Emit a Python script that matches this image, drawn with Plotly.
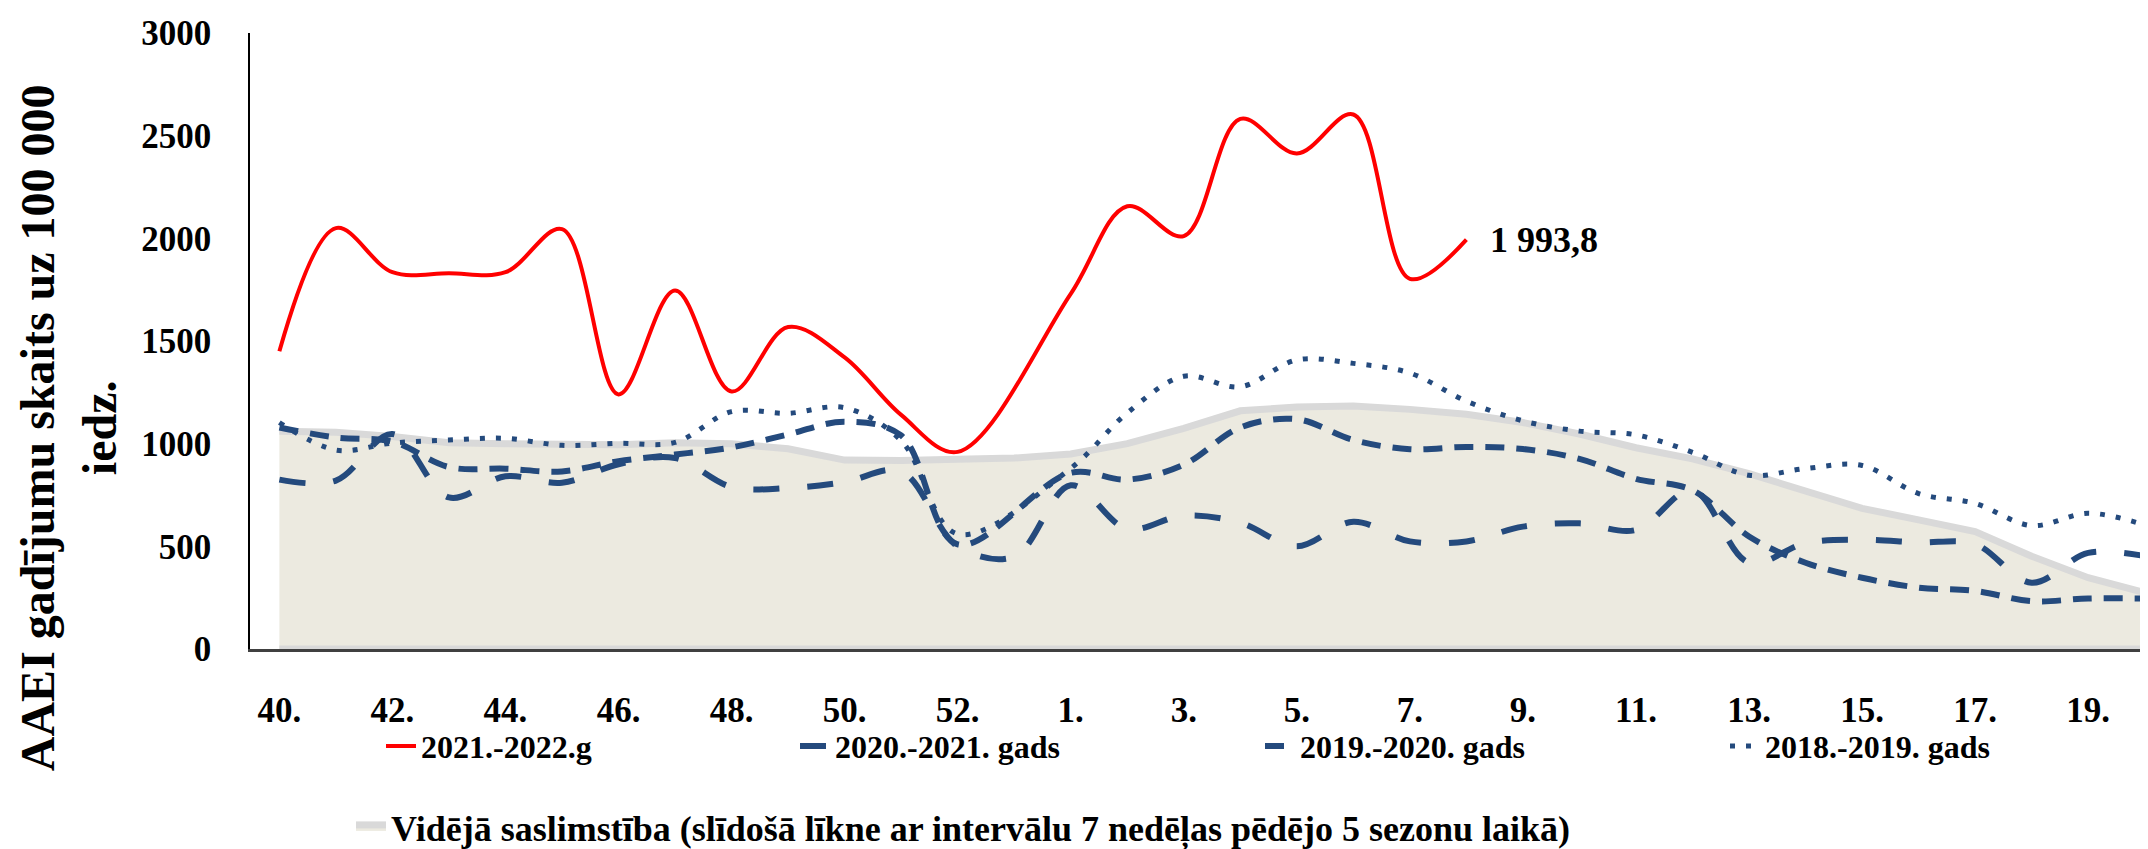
import plotly.graph_objects as go

# week categories of the season (2020 had a week 53)
weeks = ["40.", "41.", "42.", "43.", "44.", "45.", "46.", "47.", "48.", "49.",
         "50.", "51.", "52.", "53.", "1.", "2.", "3.", "4.", "5.", "6.", "7.",
         "8.", "9.", "10.", "11.", "12.", "13.", "14.", "15.", "16.", "17.",
         "18.", "19.", "20."]

# AAEI cases per 100 000 population
s_2021_2022 = [1450, 2050, 1835, 1830, 1835, 2045, 1240, 1746, 1254, 1568, 1420,
               1140, 960, None, 1730, 2156, 2011, 2582, 2413, 2603, 1803, 1993.8]
s_2020_2021 = [825, 820, 1047, 738, 841, 810, 900, 930, 789, 784, 813, 865, 500,
               450, 797, 585, 650, 615, 500, 620, 524, 524, 596, 612, 580, 773,
               420, 516, 532, 519, 511, 323, 468, 452]
s_2019_2020 = [1079, 1030, 1010, 886, 878, 865, 915, 947, 982, 1045, 1107, 1040,
               510, None, 858, 825, 898, 1079, 1119, 1018, 973, 984, 974, 926,
               829, 773, 548, 420, 347, 299, 283, 233, 246, 246]
s_2018_2019 = [1103, 969, 1003, 1018, 1026, 992, 1002, 1006, 1156, 1148, 1175,
               1015, 560, None, 880, 1150, 1328, 1277, 1408, 1391, 1344, 1207,
               1111, 1061, 1043, 958, 846, 879, 894, 757, 709, 601, 661, 604]
avg_5_seasons = [1060, 1055, 1035, 1005, 1000, 995, 995, 1005, 1000, 975, 920,
                 918, 925, 930, 950, 1000, 1075, 1160, 1178, 1183, 1167, 1143,
                 1103, 1047, 980, 926, 854, 765, 685, 629, 572, 452, 347, 275]

tick_weeks = weeks[::2]
last_label = "1 993,8"

SERIF = "Liberation Serif, Times New Roman, serif"
BLUE = "#244A7D"


def px_to_paper(px):
    # horizontal pixel -> paper fraction (plot spans 242..2148)
    return (px - 242) / 1906


fig = go.Figure()

# average incidence: closed polygon down to zero so the edges are outlined
fig.add_trace(go.Scatter(
    x=weeks + [weeks[-1], weeks[0]],
    y=avg_5_seasons + [0, 0],
    mode="lines", fill="toself", fillcolor="#ECEAE0",
    line=dict(color="#D9D9D9", width=7),
    name="Vidējā saslimstība (slīdošā līkne ar intervālu 7 nedēļas pēdējo 5 sezonu laikā)",
    legend="legend5", hoverinfo="skip"
))

fig.add_trace(go.Scatter(
    x=weeks, y=s_2018_2019, mode="lines", connectgaps=True,
    line=dict(color=BLUE, width=5, dash="5px,11px", shape="spline", smoothing=1),
    name="2018.-2019. gads", legend="legend4"
))
fig.add_trace(go.Scatter(
    x=weeks, y=s_2019_2020, mode="lines", connectgaps=True,
    line=dict(color=BLUE, width=6, dash="19px,12px", shape="spline", smoothing=1),
    name="2019.-2020. gads", legend="legend3"
))
fig.add_trace(go.Scatter(
    x=weeks, y=s_2020_2021, mode="lines", connectgaps=True,
    line=dict(color=BLUE, width=6, dash="26px,28px", shape="spline", smoothing=1),
    name="2020.-2021. gads", legend="legend2"
))
fig.add_trace(go.Scatter(
    x=weeks[:len(s_2021_2022)], y=s_2021_2022, mode="lines", connectgaps=True,
    line=dict(color="#FF0000", width=4, shape="spline", smoothing=1),
    name="2021.-2022.g", legend="legend"
))

# value label at the end of the current season (category index, not the
# "8." string, which plotly would read as the number 8)
fig.add_annotation(
    x=len(s_2021_2022) - 1, y=s_2021_2022[-1], text=last_label,
    showarrow=False, xanchor="left", yanchor="middle", xshift=22,
    font=dict(family=SERIF, size=36, color="black", weight="bold")
)

# y axis title (two lines, rotated)
fig.add_annotation(
    xref="paper", yref="paper", x=-0.0955, y=0.36,
    text="AAEI gadījumu skaits uz 100 000<br>iedz.", textangle=-90,
    showarrow=False, xanchor="center", yanchor="middle",
    font=dict(family=SERIF, size=48, color="black", weight="bold")
)

leg_font = dict(family=SERIF, size=32, color="black", weight="bold")
leg_common = dict(orientation="h", xanchor="left", yanchor="middle",
                  bgcolor="rgba(0,0,0,0)", font=leg_font)

fig.update_layout(
    width=2148, height=849,
    paper_bgcolor="white", plot_bgcolor="white",
    margin=dict(l=242, r=0, t=25, b=202),
    showlegend=True,
    xaxis=dict(
        type="category", categoryorder="array", categoryarray=weeks,
        range=[-0.52, 33.2], tickmode="array", tickvals=tick_weeks,
        showgrid=False, zeroline=False, showline=True,
        linecolor="#404040", linewidth=3, ticks="",
        ticklabelstandoff=28,
        tickfont=dict(family=SERIF, size=35, color="black", weight="bold")
    ),
    yaxis=dict(
        range=[0, 3000], tickmode="linear", tick0=0, dtick=500,
        showgrid=False, zeroline=False, showline=True,
        linecolor="black", linewidth=1.5, ticks="",
        ticklabelstandoff=30,
        tickfont=dict(family=SERIF, size=35, color="black", weight="bold")
    ),
    legend=dict(x=px_to_paper(373), y=-0.1576, **leg_common),
    legend2=dict(x=px_to_paper(787), y=-0.1576, **leg_common),
    legend3=dict(x=px_to_paper(1252), y=-0.1576, **leg_common),
    legend4=dict(x=px_to_paper(1717), y=-0.1576, **leg_common),
    legend5=dict(x=px_to_paper(343), y=-0.29, orientation="h",
                 xanchor="left", yanchor="middle", bgcolor="rgba(0,0,0,0)",
                 font=dict(family=SERIF, size=36, color="black", weight="bold")),
)

fig.write_html("out.html")
